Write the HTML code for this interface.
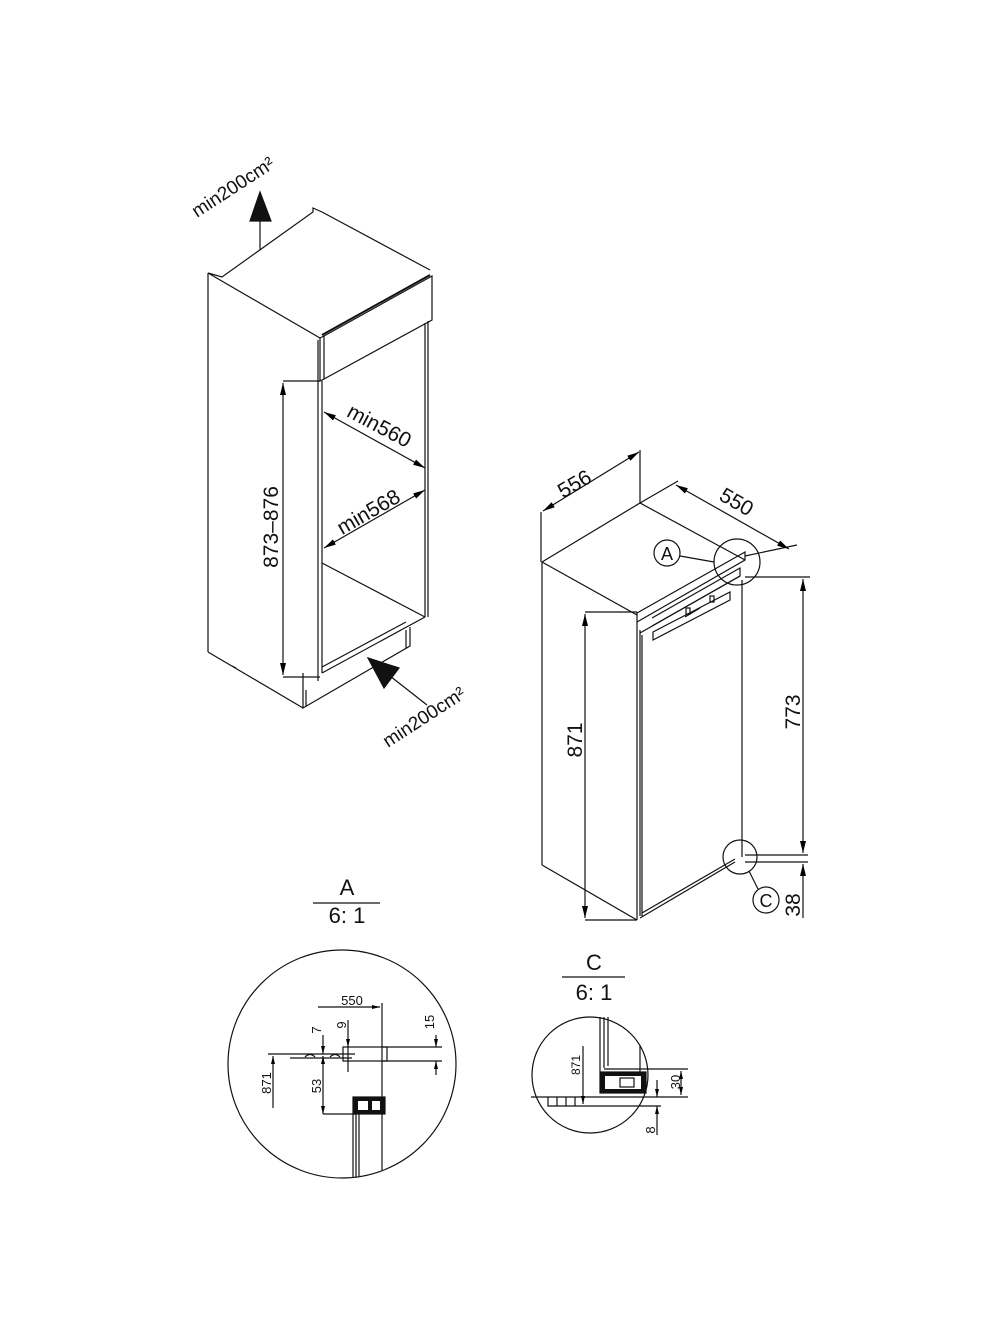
<!DOCTYPE html>
<html><head><meta charset="utf-8"><style>
html,body{margin:0;padding:0;background:#fff}
svg{display:block}
text{font-family:"Liberation Sans",sans-serif;fill:#111}
</style></head><body>
<svg width="1000" height="1333" viewBox="0 0 1000 1333" xmlns="http://www.w3.org/2000/svg">
<defs>
<marker id="a" viewBox="0 0 12 6" refX="12" refY="3" markerWidth="12" markerHeight="6" orient="auto-start-reverse" markerUnits="userSpaceOnUse"><path d="M0,0 L12,3 L0,6 z" fill="#000"/></marker>
<marker id="s" viewBox="0 0 8 4" refX="8" refY="2" markerWidth="8" markerHeight="4" orient="auto-start-reverse" markerUnits="userSpaceOnUse"><path d="M0,0 L8,2 L0,4 z" fill="#000"/></marker>
</defs>
<g fill="none" stroke="#111" stroke-width="1.2">
<!-- LEFT CABINET -->
<line x1="260" y1="250" x2="260" y2="215"/>
<polygon points="260,192 271,221 250,221" fill="#111"/>
<polyline points="208,273 222,277 313,212 313,208 322,212 430,270"/>
<line x1="208" y1="273" x2="320" y2="338"/>
<line x1="322" y1="335" x2="430" y2="275" stroke-width="2"/>
<line x1="208" y1="273" x2="208" y2="652"/>
<line x1="208" y1="652" x2="303" y2="708"/>
<line x1="232" y1="666" x2="236" y2="668"/>
<polygon points="320,338 324,336 324,379 320,381"/>
<polyline points="324,336 432,276 432,320 324,379"/>
<line x1="425" y1="323" x2="425" y2="617"/>
<line x1="428" y1="321" x2="428" y2="617"/>
<line x1="318" y1="340" x2="318" y2="681"/>
<line x1="322" y1="381" x2="322" y2="673"/>
<line x1="322" y1="563" x2="425" y2="617"/>
<line x1="322" y1="673" x2="425" y2="617"/>
<polyline points="303,673 303,708 410,646 410,627"/>
<line x1="306" y1="690" x2="306" y2="706"/>
<line x1="406" y1="630" x2="406" y2="648"/>
<line x1="322" y1="667" x2="406" y2="622"/>
<line x1="283" y1="381" x2="320" y2="381"/>
<line x1="283" y1="677" x2="320" y2="677"/>
<line x1="283" y1="383" x2="283" y2="675" marker-start="url(#a)" marker-end="url(#a)"/>
<line x1="324" y1="412" x2="425" y2="468" marker-start="url(#a)" marker-end="url(#a)"/>
<line x1="425" y1="490" x2="324" y2="548" marker-start="url(#a)" marker-end="url(#a)"/>
<line x1="427" y1="705" x2="390" y2="676"/>
<polygon points="368,658 399,668 384,688" fill="#111"/>

<!-- RIGHT FRIDGE -->
<polyline points="542,562 640,503 745,560"/>
<line x1="542" y1="562" x2="637" y2="615"/>
<line x1="542" y1="562" x2="542" y2="865"/>
<line x1="542" y1="865" x2="637" y2="920"/>
<line x1="637" y1="612" x2="637" y2="920"/>
<line x1="640" y1="630" x2="640" y2="916"/>
<line x1="642" y1="635" x2="642" y2="916"/>
<line x1="742" y1="580" x2="742" y2="857"/>
<line x1="640" y1="918" x2="735" y2="862"/>
<line x1="642" y1="913" x2="735" y2="859"/>
<polyline points="637,613 745,552 745,560 637,622"/>
<polyline points="652,618 740,568 740,576 652,626"/>
<polyline points="640,633 740,576"/>
<polygon points="653,632 730,592 730,600 653,640"/>
<line x1="685" y1="617" x2="700" y2="608"/>
<rect x="686" y="608" width="4" height="6"/>
<rect x="710" y="596" width="4" height="6"/>
<line x1="541" y1="512" x2="541" y2="562"/>
<line x1="640" y1="450" x2="640" y2="503"/>
<line x1="543" y1="511" x2="639" y2="452" marker-start="url(#a)" marker-end="url(#a)"/>
<line x1="640" y1="503" x2="678" y2="481"/>
<line x1="745" y1="556" x2="797" y2="545"/>
<line x1="676" y1="485" x2="789" y2="549" marker-start="url(#a)" marker-end="url(#a)"/>
<circle cx="737" cy="562" r="23"/>
<circle cx="667" cy="553" r="13"/>
<line x1="680" y1="556" x2="714" y2="562"/>
<line x1="745" y1="577" x2="810" y2="577"/>
<line x1="745" y1="855" x2="808" y2="855"/>
<line x1="745" y1="862" x2="808" y2="862"/>
<line x1="803" y1="579" x2="803" y2="853" marker-start="url(#a)" marker-end="url(#a)"/>
<line x1="803" y1="864" x2="803" y2="918" marker-start="url(#a)"/>
<circle cx="740" cy="857" r="17"/>
<circle cx="766" cy="900" r="13"/>
<line x1="749" y1="871" x2="758" y2="889"/>
<line x1="585" y1="612" x2="637" y2="612"/>
<line x1="585" y1="920" x2="637" y2="920"/>
<line x1="585" y1="614" x2="585" y2="918" marker-start="url(#a)" marker-end="url(#a)"/>

<!-- DETAIL A -->
<line x1="313" y1="903" x2="380" y2="903"/>
<circle cx="342" cy="1064" r="114"/>
<line x1="318" y1="1007" x2="380" y2="1007" marker-end="url(#s)"/>
<line x1="382" y1="1003" x2="382" y2="1170"/>
<rect x="343" y="1047" width="44" height="14"/>
<line x1="382" y1="1047" x2="442" y2="1047"/>
<line x1="382" y1="1061" x2="442" y2="1061"/>
<line x1="436" y1="1035" x2="436" y2="1047" marker-end="url(#s)"/>
<line x1="436" y1="1075" x2="436" y2="1061" marker-end="url(#s)"/>
<line x1="348" y1="1020" x2="348" y2="1047" marker-end="url(#s)"/>
<line x1="348" y1="1047" x2="348" y2="1072"/>
<line x1="323" y1="1035" x2="323" y2="1054" marker-end="url(#s)"/>
<line x1="323" y1="1056" x2="323" y2="1114" marker-start="url(#s)" marker-end="url(#s)"/>
<line x1="323" y1="1114" x2="355" y2="1114"/>
<line x1="268" y1="1054" x2="355" y2="1054"/>
<line x1="273" y1="1056" x2="273" y2="1108" marker-start="url(#s)"/>
<line x1="290" y1="1058" x2="352" y2="1058"/>
<path d="M305,1057 q5,-5 10,0 M330,1057 q5,-5 10,0"/>
<rect x="353" y="1097" width="32" height="17" fill="#111"/>
<rect x="358" y="1101" width="10" height="9" fill="#fff" stroke="none"/>
<rect x="372" y="1101" width="8" height="9" fill="#fff" stroke="none"/>
<line x1="353" y1="1114" x2="353" y2="1177"/>
<line x1="356" y1="1114" x2="356" y2="1177"/>
<line x1="359" y1="1114" x2="359" y2="1176"/>

<!-- DETAIL C -->
<line x1="562" y1="977" x2="625" y2="977"/>
<circle cx="590" cy="1075" r="58"/>
<line x1="531" y1="1097" x2="648" y2="1097"/>
<polyline points="548,1097 548,1106 575,1106 575,1097"/>
<line x1="557" y1="1097" x2="557" y2="1106"/><line x1="566" y1="1097" x2="566" y2="1106"/>
<line x1="583" y1="1046" x2="583" y2="1104" marker-end="url(#s)"/>
<line x1="575" y1="1106" x2="661" y2="1106"/>
<rect x="600" y="1072" width="46" height="21" fill="#111"/>
<rect x="605" y="1076" width="36" height="13" fill="#fff" stroke="none"/>
<rect x="620" y="1078" width="14" height="9"/>
<line x1="600" y1="1017" x2="600" y2="1072"/>
<line x1="604" y1="1017" x2="604" y2="1068"/>
<line x1="608" y1="1017" x2="608" y2="1066"/>
<line x1="640" y1="1045" x2="640" y2="1072"/>
<line x1="604" y1="1069" x2="646" y2="1069"/>
<line x1="646" y1="1069" x2="688" y2="1069"/>
<line x1="648" y1="1097" x2="688" y2="1097"/>
<line x1="681" y1="1071" x2="681" y2="1095" marker-start="url(#s)" marker-end="url(#s)"/>
<line x1="657" y1="1080" x2="657" y2="1097" marker-end="url(#s)"/>
<line x1="657" y1="1135" x2="657" y2="1106" marker-end="url(#s)"/>
</g>

<!-- TEXT -->
<g>
<text x="0" y="0" font-size="19" transform="translate(197,218) rotate(-33)">min200cm²</text>
<text x="0" y="0" font-size="19" transform="translate(388,748) rotate(-33)">min200cm²</text>
<text x="0" y="0" font-size="21" text-anchor="middle" transform="translate(278,527) rotate(-90)">873–876</text>
<text x="0" y="0" font-size="21" text-anchor="middle" transform="translate(376,432) rotate(28)">min560</text>
<text x="0" y="0" font-size="21" text-anchor="middle" transform="translate(372,518) rotate(-30)">min568</text>
<text x="0" y="0" font-size="21" text-anchor="middle" transform="translate(578,490) rotate(-30)">556</text>
<text x="0" y="0" font-size="21" text-anchor="middle" transform="translate(733,508) rotate(30)">550</text>
<text x="667" y="560" font-size="18" text-anchor="middle">A</text>
<text x="766" y="907" font-size="18" text-anchor="middle">C</text>
<text x="0" y="0" font-size="21" text-anchor="middle" transform="translate(582,740) rotate(-90)">871</text>
<text x="0" y="0" font-size="21" text-anchor="middle" transform="translate(800,712) rotate(-90)">773</text>
<text x="0" y="0" font-size="21" text-anchor="middle" transform="translate(800,905) rotate(-90)">38</text>
<text x="347" y="895" font-size="22" text-anchor="middle">A</text>
<text x="347" y="923" font-size="22" text-anchor="middle">6: 1</text>
<text x="594" y="970" font-size="22" text-anchor="middle">C</text>
<text x="594" y="1000" font-size="22" text-anchor="middle">6: 1</text>
<text x="352" y="1005" font-size="13" text-anchor="middle">550</text>
<text x="0" y="0" font-size="13" text-anchor="middle" transform="translate(434,1022) rotate(-90)">15</text>
<text x="0" y="0" font-size="13" text-anchor="middle" transform="translate(346,1025) rotate(-90)">9</text>
<text x="0" y="0" font-size="13" text-anchor="middle" transform="translate(321,1030) rotate(-90)">7</text>
<text x="0" y="0" font-size="13" text-anchor="middle" transform="translate(271,1083) rotate(-90)">871</text>
<text x="0" y="0" font-size="13" text-anchor="middle" transform="translate(321,1086) rotate(-90)">53</text>
<text x="0" y="0" font-size="12" text-anchor="middle" transform="translate(580,1065) rotate(-90)">871</text>
<text x="0" y="0" font-size="13" text-anchor="middle" transform="translate(680,1082) rotate(-90)">30</text>
<text x="0" y="0" font-size="13" text-anchor="middle" transform="translate(655,1130) rotate(-90)">8</text>
</g>
</svg>
</body></html>
